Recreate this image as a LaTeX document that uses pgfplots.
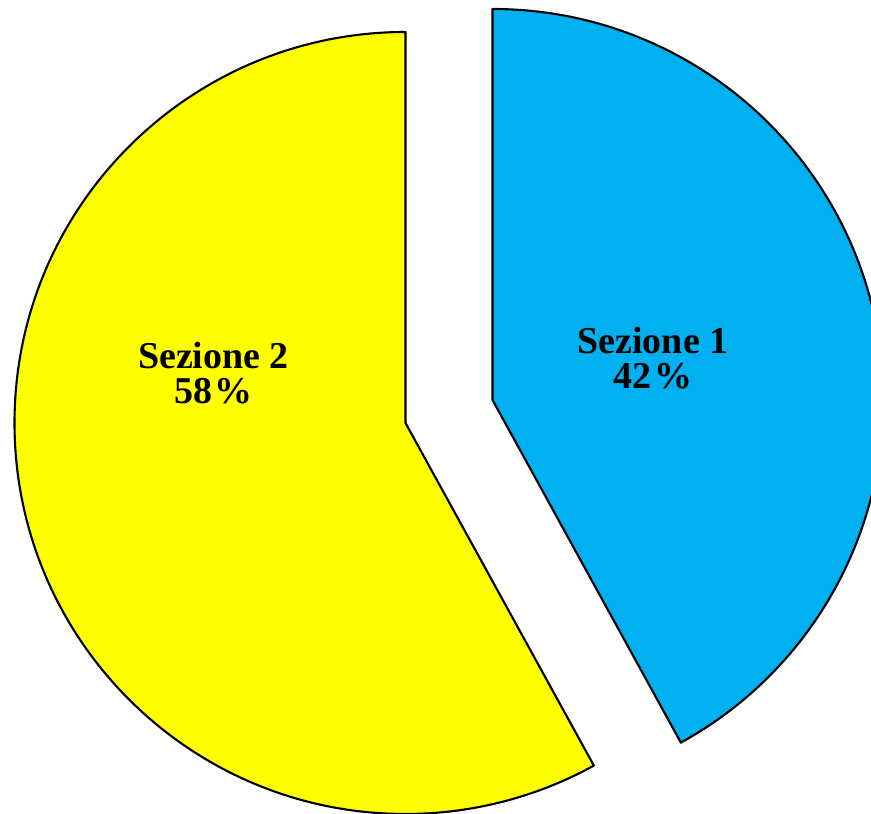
\documentclass[border=0pt]{standalone}
\usepackage{pgfplots}
\pgfplotsset{compat=1.18}
\usepackage{pgfplotstable}
\usepackage{fontspec}
\setmainfont{Liberation Serif}

\definecolor{sezuno}{HTML}{00B0F0}
\definecolor{sezdue}{HTML}{FFFF00}

% share of each section, in percent
\pgfplotstableread{
sezione quota
1 42
2 58
}\sezioni
\pgfplotstablegetelem{0}{quota}\of\sezioni \let\quotaA\pgfplotsretval
\pgfplotstablegetelem{1}{quota}\of\sezioni \let\quotaB\pgfplotsretval
\pgfmathsetmacro{\angA}{90-3.6*\quotaA}
\pgfmathsetmacro{\angB}{90+3.6*\quotaB}

\begin{document}
\begin{tikzpicture}
\begin{axis}[
    name=pie,
    x=1cm, y=1cm,
    xmin=0, xmax=8.71, ymin=0, ymax=8.14,
    scale only axis,
    hide axis,
]
% Sezione 2 (stays in place)
\filldraw[fill=sezdue, draw=black, line width=0.6pt, line join=round]
  (axis cs:4.055,3.91) -- ++(90:3.91cm)
  arc[start angle=90, end angle=\angB, radius=3.91cm] -- cycle;
% Sezione 1 (pulled out)
\filldraw[fill=sezuno, draw=black, line width=0.6pt, line join=round]
  (axis cs:4.925,4.14) -- ++(90:3.91cm)
  arc[start angle=90, end angle=\angA, radius=3.91cm] -- cycle;

\node[align=center, font=\fontsize{10.8}{10}\selectfont\bfseries]
  at (axis cs:2.135,4.405) {Sezione 2\\\quotaB\kern0.07em\%};
\node[align=center, font=\fontsize{10.8}{10}\selectfont\bfseries]
  at (axis cs:6.53,4.56) {Sezione 1\\\quotaA\kern0.07em\%};
\end{axis}
\pgfresetboundingbox
\useasboundingbox (pie.south west) rectangle (pie.north east);
\end{tikzpicture}
\end{document}
